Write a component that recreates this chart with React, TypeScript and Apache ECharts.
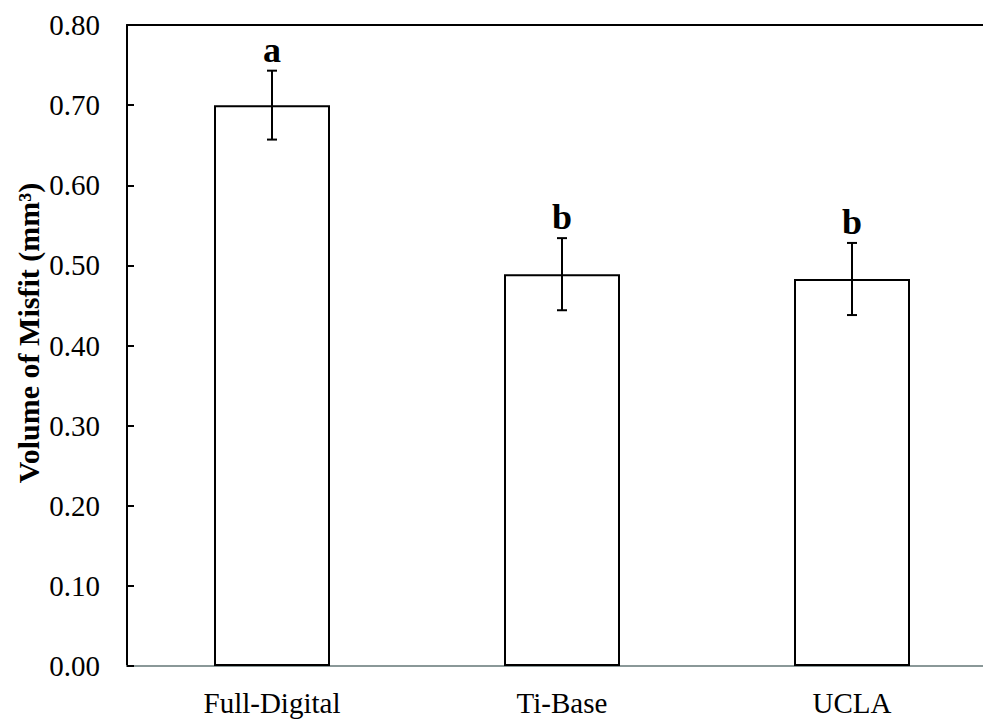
import React, { useEffect, useRef } from "react";
import * as echarts from "echarts";

// Misfit volume by abutment type, mean ± SD with significance groups
const categories = ["Full-Digital", "Ti-Base", "UCLA"];
const meanValues = [0.70, 0.489, 0.483];
const errorValues = [0.043, 0.045, 0.045];
const groupLetters = ["a", "b", "b"];
const yTicks = { min: 0, max: 0.8, interval: 0.1 };

const SERIF = "'Times New Roman', 'Liberation Serif', serif";

export default function App() {
  const ref = useRef<HTMLDivElement>(null);

  useEffect(() => {
    if (!ref.current) return;
    const chart = echarts.init(ref.current, null, { renderer: "svg" });

    const errorData = categories.map((c, i) => [i, meanValues[i], errorValues[i]]);

    chart.setOption({
      animation: false,
      backgroundColor: "#ffffff",
      grid: { left: 127, top: 25, width: 870, bottom: 54, containLabel: false },
      xAxis: [
        {
          type: "category",
          data: categories,
          position: "bottom",
          axisLine: { show: true, lineStyle: { color: "#8a9898", width: 2 } },
          axisTick: { show: false },
          axisLabel: {
            color: "#000",
            fontFamily: SERIF,
            fontSize: 29,
            margin: 22,
          },
        },
        {
          type: "category",
          data: categories,
          position: "top",
          axisLine: { show: true, onZero: false, lineStyle: { color: "#000", width: 2 } },
          axisTick: { show: false },
          axisLabel: { show: false },
        },
      ],
      yAxis: {
        type: "value",
        min: yTicks.min,
        max: yTicks.max,
        interval: yTicks.interval,
        axisLine: { show: true, lineStyle: { color: "#000", width: 2 } },
        axisTick: { show: true, inside: true, length: 7, lineStyle: { color: "#000", width: 2 } },
        splitLine: { show: false },
        axisLabel: {
          color: "#000",
          fontFamily: SERIF,
          fontSize: 29,
          margin: 27,
          formatter: (v: number) => v.toFixed(2),
        },
      },
      graphic: [
        {
          type: "text",
          x: 28,
          y: 333,
          rotation: Math.PI / 2,
          style: {
            text: "Volume of Misfit (mm³)",
            font: `bold 30px ${SERIF}`,
            fill: "#000",
            align: "center",
            verticalAlign: "middle",
          },
        },
      ],
      series: [
        {
          type: "bar",
          data: meanValues,
          barWidth: "40%",
          itemStyle: { color: "#ffffff", borderColor: "#000", borderWidth: 2 },
          z: 2,
        },
        {
          type: "custom",
          data: errorData,
          z: 3,
          renderItem: (params: any, api: any) => {
            const i = api.value(0);
            const mean = api.value(1);
            const err = api.value(2);
            const letter = groupLetters[params.dataIndex];
            const top = api.coord([i, mean + err]);
            const bot = api.coord([i, mean - err]);
            const cap = 5;
            const ls = { stroke: "#000", lineWidth: 2 };
            return {
              type: "group",
              children: [
                { type: "line", shape: { x1: top[0], y1: top[1], x2: bot[0], y2: bot[1] }, style: ls },
                { type: "line", shape: { x1: top[0] - cap, y1: top[1], x2: top[0] + cap, y2: top[1] }, style: ls },
                { type: "line", shape: { x1: bot[0] - cap, y1: bot[1], x2: bot[0] + cap, y2: bot[1] }, style: ls },
                {
                  type: "text",
                  x: top[0],
                  y: top[1] - 3,
                  style: {
                    text: letter,
                    font: `bold 36px ${SERIF}`,
                    fill: "#000",
                    align: "center",
                    verticalAlign: "bottom",
                  },
                },
              ],
            };
          },
        },
      ],
    });

    return () => chart.dispose();
  }, []);

  // The plot runs past the right edge of the page, so the chart is wider than its clipping frame.
  return (
    <div
      style={{
        position: "absolute",
        left: 0,
        top: 0,
        width: 983,
        height: 720,
        overflow: "hidden",
        background: "#fff",
      }}
    >
      <div ref={ref} style={{ width: 1000, height: 720 }} />
    </div>
  );
}
